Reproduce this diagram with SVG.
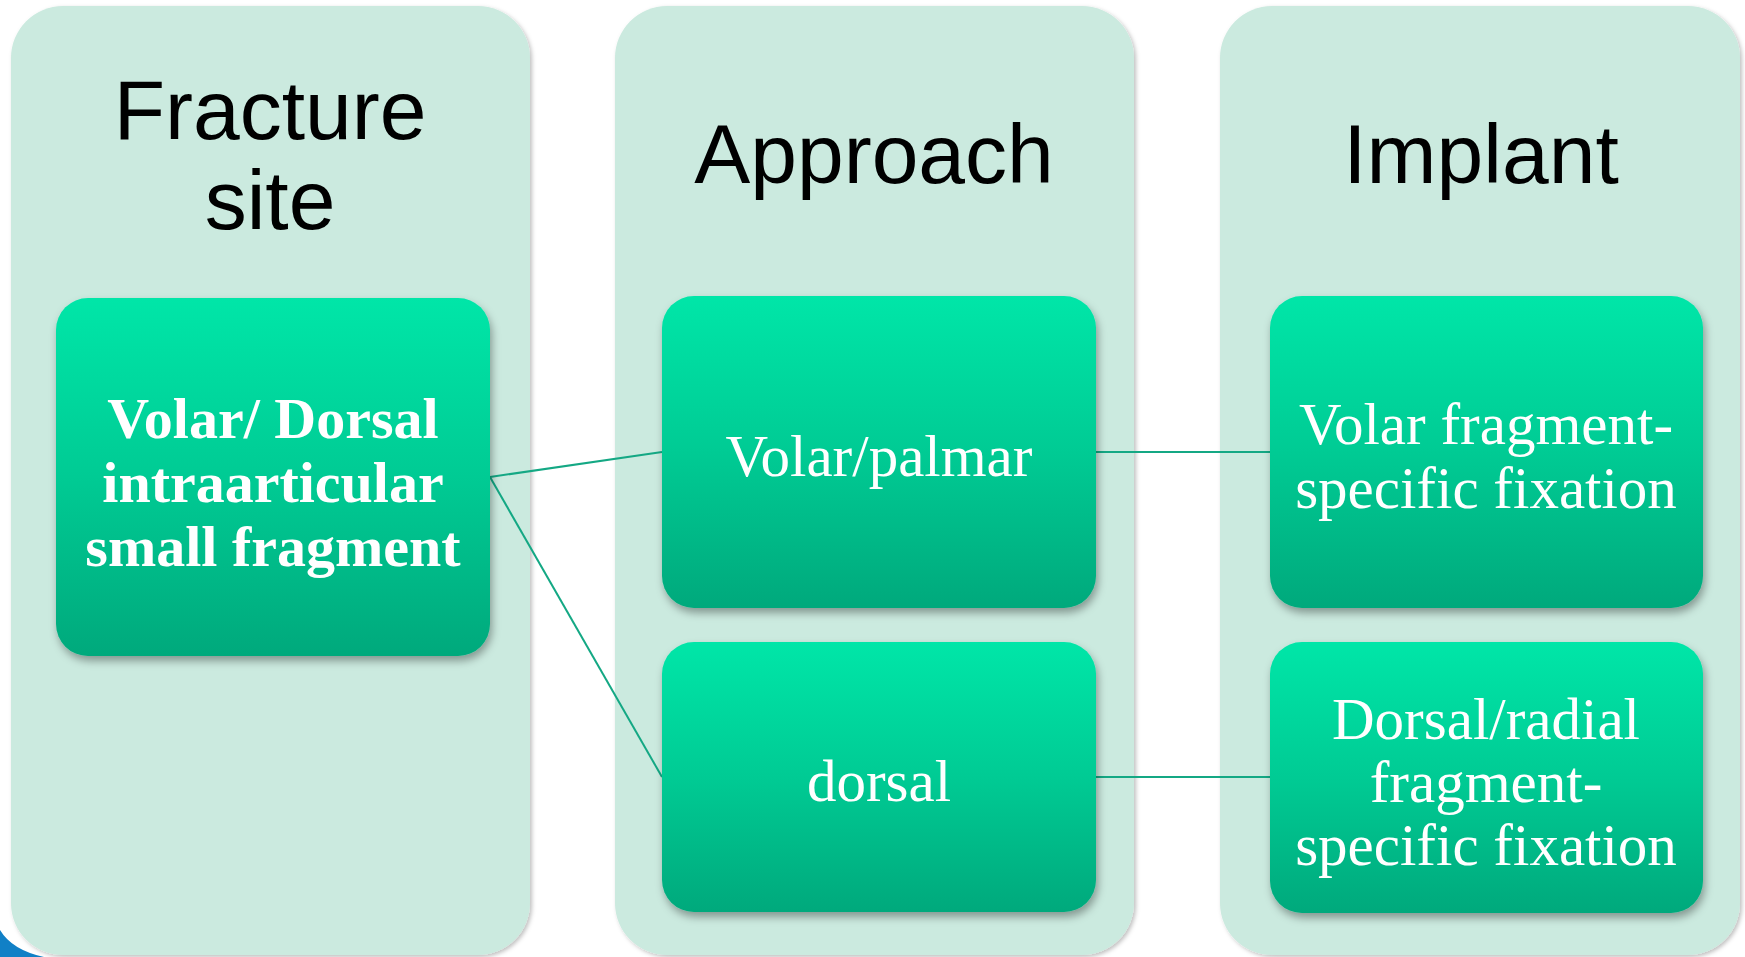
<svg xmlns="http://www.w3.org/2000/svg" width="1745" height="957" viewBox="0 0 1745 957">
  <defs>
    <linearGradient id="nodeGrad" x1="0" y1="0" x2="0" y2="1">
      <stop offset="0" stop-color="#00E6A8"/>
      <stop offset="0.5" stop-color="#00CB94"/>
      <stop offset="1" stop-color="#00A97C"/>
    </linearGradient>
    <filter id="colShadow" x="-5%" y="-5%" width="110%" height="110%">
      <feDropShadow dx="2" dy="2" stdDeviation="2" flood-color="#000" flood-opacity="0.25"/>
    </filter>
    <filter id="nodeShadow" x="-10%" y="-10%" width="120%" height="125%">
      <feDropShadow dx="2" dy="5" stdDeviation="4" flood-color="#000" flood-opacity="0.35"/>
    </filter>
    <style>
      .col { fill: #CBEADF; filter: url(#colShadow); }
      .node { fill: url(#nodeGrad); filter: url(#nodeShadow); }
      .head { font-family: "Liberation Sans", Arial, sans-serif; font-size: 84px; fill: #000; text-anchor: middle; }
      .lbl { font-family: "Liberation Serif", "Times New Roman", serif; font-size: 59px; fill: #fff; text-anchor: middle; }
      .bold { font-weight: bold; font-size: 58px; }
      .conn { stroke: #14A884; stroke-width: 2; fill: none; }
    </style>
  </defs>
  <rect width="1745" height="957" fill="#fff"/>
  <path d="M0,930 Q12,950 44,957 L0,957 Z" fill="#1180C6"/>

  <g id="col-fracture">
    <rect class="col" x="11" y="6" width="519" height="949" rx="52"/>
    <text class="head" x="270" y="139">Fracture</text>
    <text class="head" x="270" y="229">site</text>
  </g>
  <g id="col-approach">
    <rect class="col" x="615" y="6" width="519" height="949" rx="52"/>
    <text class="head" x="874" y="183">Approach</text>
  </g>
  <g id="col-implant">
    <rect class="col" x="1220" y="6" width="520" height="949" rx="52"/>
    <text class="head" x="1481" y="183">Implant</text>
  </g>

  <g id="connectors">
    <line class="conn" x1="490" y1="477" x2="662" y2="452"/>
    <line class="conn" x1="490" y1="477" x2="662" y2="777"/>
    <line class="conn" x1="1096" y1="452" x2="1270" y2="452"/>
    <line class="conn" x1="1096" y1="777" x2="1270" y2="777"/>
  </g>

  <g id="node-fragment">
    <rect class="node" x="56" y="298" width="434" height="358" rx="32"/>
    <text class="lbl bold" x="273" y="438">Volar/ Dorsal</text>
    <text class="lbl bold" x="273" y="502">intraarticular</text>
    <text class="lbl bold" x="273" y="566">small fragment</text>
  </g>
  <g id="node-volar">
    <rect class="node" x="662" y="296" width="434" height="312" rx="32"/>
    <text class="lbl" x="879" y="476">Volar/palmar</text>
  </g>
  <g id="node-dorsal">
    <rect class="node" x="662" y="642" width="434" height="270" rx="32"/>
    <text class="lbl" x="879" y="801">dorsal</text>
  </g>
  <g id="node-volar-fix">
    <rect class="node" x="1270" y="296" width="433" height="312" rx="32"/>
    <text class="lbl" x="1486" y="444">Volar fragment-</text>
    <text class="lbl" x="1486" y="508">specific fixation</text>
  </g>
  <g id="node-dorsal-fix">
    <rect class="node" x="1270" y="642" width="433" height="271" rx="32"/>
    <text class="lbl" x="1486" y="739">Dorsal/radial</text>
    <text class="lbl" x="1486" y="802">fragment-</text>
    <text class="lbl" x="1486" y="865">specific fixation</text>
  </g>
</svg>
